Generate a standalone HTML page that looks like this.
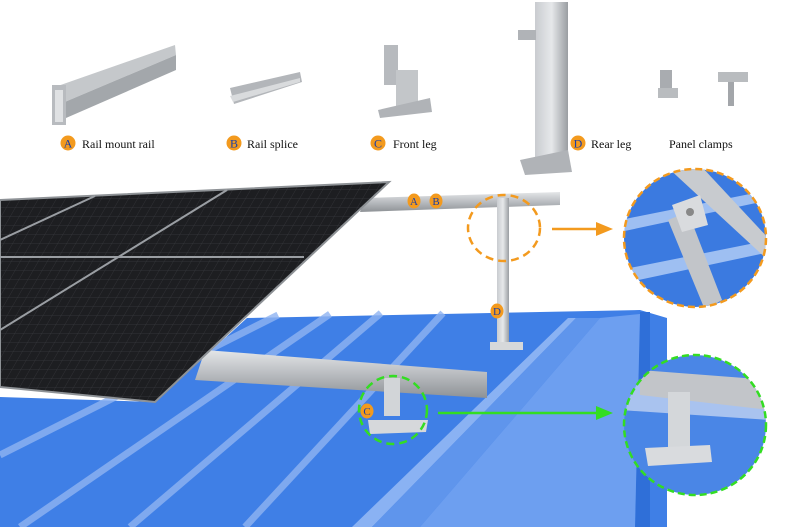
<!DOCTYPE html>
<html><head><meta charset="utf-8"><style>
html,body{margin:0;padding:0;background:#fff;}
svg{display:block}
text{font-family:"Liberation Serif",serif;}
</style></head><body>
<svg width="800" height="527" viewBox="0 0 800 527" xmlns="http://www.w3.org/2000/svg">
<defs>
<linearGradient id="al" x1="0" y1="0" x2="0" y2="1"><stop offset="0" stop-color="#e4e6e8"/><stop offset="0.5" stop-color="#b9bcc0"/><stop offset="1" stop-color="#8e9296"/></linearGradient>
<linearGradient id="alv" x1="0" y1="0" x2="1" y2="0"><stop offset="0" stop-color="#c9ccd0"/><stop offset="0.5" stop-color="#e6e8ea"/><stop offset="1" stop-color="#9a9ea2"/></linearGradient>
<pattern id="cells" width="9" height="9" patternUnits="userSpaceOnUse" patternTransform="skewX(-30)">
<rect width="9" height="9" fill="#1d1e21"/><path d="M0 0H9M0 0V9" stroke="#3a3c40" stroke-width="0.7"/></pattern>
<clipPath id="c1"><ellipse cx="695" cy="238" rx="71" ry="69"/></clipPath>
<clipPath id="c2"><ellipse cx="695" cy="425" rx="71" ry="70"/></clipPath>
</defs>

<!-- top product images -->
<g>
<polygon points="52,88 175,45 176,55 60,104" fill="#c5c8cb"/>
<polygon points="60,104 176,55 176,70 66,118" fill="#a3a7ab"/>
<rect x="52" y="85" width="14" height="40" fill="#b8bbbf"/>
<rect x="55" y="90" width="8" height="32" fill="#dfe1e3"/>
<polygon points="230,88 300,72 302,82 234,104" fill="#b3b6ba"/>
<polygon points="230,96 300,78 300,82 233,102" fill="#d9dbdd"/>
<rect x="384" y="45" width="14" height="40" fill="#b7babe"/>
<rect x="396" y="70" width="22" height="40" fill="#c3c6c9"/>
<polygon points="378,110 430,98 432,112 380,118" fill="#b0b3b7"/>
<rect x="535" y="2" width="33" height="170" fill="url(#alv)"/>
<rect x="518" y="30" width="18" height="10" fill="#b0b3b7"/>
<polygon points="520,160 568,150 572,172 525,175" fill="#b0b3b7"/>
<rect x="660" y="70" width="12" height="28" fill="#a9acb0"/>
<rect x="686" y="88" width="20" height="10" fill="#b9bcbf" transform="translate(-28,0)"/>
<rect x="718" y="72" width="30" height="10" fill="#b9bcbf"/>
<rect x="728" y="82" width="6" height="24" fill="#a3a6aa"/>
</g>

<!-- top labels -->
<g font-size="12" fill="#111">
<circle cx="68" cy="143" r="7.5" fill="#f39a1e"/><text x="68" y="147.5" font-size="12" fill="#1a3fa8" text-anchor="middle">A</text>
<text x="82" y="148">Rail mount rail</text>
<circle cx="234" cy="143" r="7.5" fill="#f39a1e"/><text x="234" y="147.5" fill="#1a3fa8" text-anchor="middle">B</text>
<text x="247" y="148">Rail splice</text>
<circle cx="378" cy="143" r="7.5" fill="#f39a1e"/><text x="378" y="147.5" fill="#1a3fa8" text-anchor="middle">C</text>
<text x="393" y="148">Front leg</text>
<circle cx="578" cy="143" r="7.5" fill="#f39a1e"/><text x="578" y="147.5" fill="#1a3fa8" text-anchor="middle">D</text>
<text x="591" y="148">Rear leg</text>
<text x="669" y="148">Panel clamps</text>
</g>

<!-- roof -->
<polygon points="0,397 155,402 247,318 640,310 667,318 667,527 0,527" fill="#3f7fe6"/>
<g stroke="#8fb4f2" stroke-width="7" opacity="0.8">
<line x1="278" y1="315" x2="0" y2="455"/>
<line x1="330" y1="314" x2="20" y2="527"/>
<line x1="381" y1="313" x2="130" y2="527"/>
<line x1="443" y1="313" x2="245" y2="527"/>
</g>
<polygon points="568,318 576,318 372,527 352,527" fill="#8ab2f3"/>
<polygon points="576,318 600,318 420,527 372,527" fill="#5f95ec"/>
<polygon points="640,312 650,312 650,527 635,527" fill="#2f6fd8"/>
<polygon points="600,318 640,314 635,527 420,527" fill="#6d9ff0"/>

<!-- upper rail -->
<polygon points="365,198 560,192 560,205 360,212" fill="url(#al)"/>
<!-- rear leg -->
<rect x="497" y="198" width="12" height="148" fill="url(#alv)"/>
<rect x="490" y="342" width="33" height="8" fill="#d6d8da"/>
<!-- lower rail -->
<polygon points="205,350 487,372 487,398 195,380" fill="url(#al)"/>
<!-- front leg -->
<rect x="384" y="378" width="16" height="38" fill="#d2d5d8"/>
<polygon points="368,420 428,420 426,432 370,434" fill="#d6d8db"/>

<!-- panel -->
<polygon points="0,200 389,182 155,402 0,387" fill="url(#cells)"/>
<polygon points="0,200 389,182 155,402 0,387" fill="none" stroke="#8e9296" stroke-width="2"/>
<g stroke="#9a9ea3" stroke-width="2">
<line x1="227" y1="190" x2="0" y2="330"/>
<line x1="95" y1="196" x2="0" y2="240"/>
<line x1="0" y1="257" x2="304" y2="257"/>
</g>

<!-- scene labels -->
<g font-size="11" fill="#1a3fa8" text-anchor="middle">
<ellipse cx="414" cy="201" rx="6.5" ry="7.5" fill="#f39a1e"/><text x="414" y="205">A</text>
<ellipse cx="436" cy="201" rx="6.5" ry="7.5" fill="#f39a1e"/><text x="436" y="205">B</text>
<ellipse cx="497" cy="311" rx="6.5" ry="7.5" fill="#f39a1e"/><text x="497" y="315">D</text>
<ellipse cx="367" cy="411" rx="6.5" ry="7.5" fill="#f39a1e"/><text x="367" y="415">C</text>
</g>

<!-- callout circles -->
<ellipse cx="504" cy="228" rx="36" ry="33" fill="none" stroke="#f39a1e" stroke-width="2.5" stroke-dasharray="8,5"/>
<ellipse cx="393" cy="410" rx="34" ry="34" fill="none" stroke="#33dd22" stroke-width="2.5" stroke-dasharray="8,5"/>
<line x1="552" y1="229" x2="597" y2="229" stroke="#f39a1e" stroke-width="2.5"/>
<polygon points="596,222 613,229 596,236" fill="#f39a1e"/>
<line x1="438" y1="413" x2="597" y2="413" stroke="#33dd22" stroke-width="2.5"/>
<polygon points="596,406 613,413 596,420" fill="#33dd22"/>

<!-- zoom circle 1 -->
<g clip-path="url(#c1)">
<rect x="620" y="165" width="150" height="150" fill="#3b7ae0"/>
<polygon points="620,220 770,190 770,200 620,232" fill="#9ebff2"/>
<polygon points="620,270 770,240 770,252 620,284" fill="#9ebff2"/>
<polygon points="665,165 700,165 770,240 770,262" fill="#c8cbcf"/>
<polygon points="668,220 688,212 722,300 705,310" fill="#c2c5c9"/>
<polygon points="672,205 700,195 708,225 682,232" fill="#d9dbde"/>
<circle cx="690" cy="212" r="4" fill="#888"/>
</g>
<ellipse cx="695" cy="238" rx="71" ry="69" fill="none" stroke="#f39a1e" stroke-width="2.5" stroke-dasharray="7,4"/>

<!-- zoom circle 2 -->
<g clip-path="url(#c2)">
<rect x="620" y="352" width="150" height="150" fill="#4a86e6"/>
<polygon points="620,380 770,395 770,420 620,410" fill="#a9c3ef"/>
<polygon points="640,370 770,380 770,410 640,395" fill="#c2c5c9"/>
<rect x="668" y="392" width="22" height="55" fill="#d4d7da"/>
<polygon points="645,448 710,445 712,462 648,466" fill="#d9dbde"/>
</g>
<ellipse cx="695" cy="425" rx="71" ry="70" fill="none" stroke="#33dd22" stroke-width="2.5" stroke-dasharray="7,4"/>
</svg>
</body></html>
